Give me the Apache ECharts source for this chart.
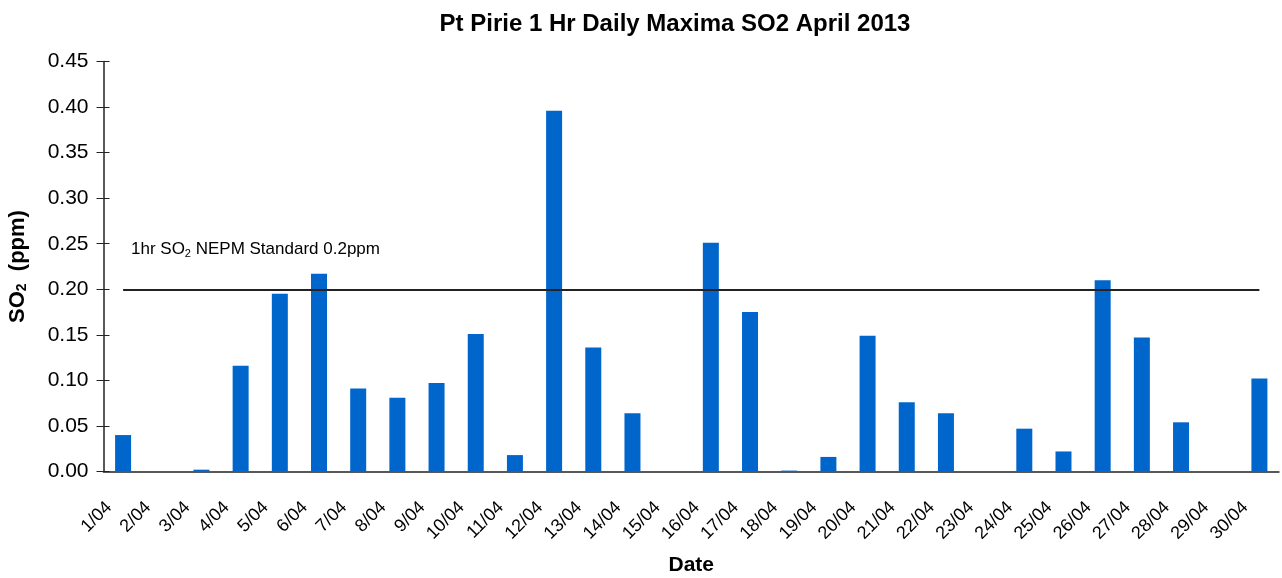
<!DOCTYPE html>
<html>
<head>
<meta charset="utf-8">
<script src="https://cdn.jsdelivr.net/npm/echarts@6/dist/echarts.min.js"></script>
<style>
  html, body { margin: 0; padding: 0; background: #fff; }
  #chart { width: 1282px; height: 578px; }
</style>
</head>
<body>
<div id="chart"></div>
<script>
// daily 1 hr maxima
const dates = ['1/04','2/04','3/04','4/04','5/04','6/04','7/04','8/04','9/04','10/04',
  '11/04','12/04','13/04','14/04','15/04','16/04','17/04','18/04','19/04','20/04',
  '21/04','22/04','23/04','24/04','25/04','26/04','27/04','28/04','29/04','30/04'];
const so2Max = [0.040, 0, 0.002, 0.116, 0.195, 0.217, 0.091, 0.081, 0.097, 0.151,
  0.018, 0.396, 0.136, 0.064, 0, 0.251, 0.175, 0.001, 0.016, 0.149,
  0.076, 0.064, 0, 0.047, 0.022, 0.210, 0.147, 0.054, 0, 0.102];
const nepmStandard = 0.2;

const chart = echarts.init(document.getElementById('chart'));
const font = 'Arial, "Liberation Sans", sans-serif';
const axisCol = '#222';

chart.setOption({
  animation: false,
  textStyle: { fontFamily: font },
  title: {
    text: 'Pt Pirie 1 Hr Daily Maxima SO2 April 2013',
    left: 670, top: 7, textAlign: 'center',
    textStyle: { fontSize: 24, fontWeight: 'bold', color: '#000', fontFamily: font }
  },
  grid: { left: 103.5, right: 3, top: 61.5, bottom: 106.5, containLabel: false, outerBoundsMode: 'none' },
  xAxis: [
    {
      type: 'category',
      data: dates,
      name: 'Date',
      nameLocation: 'middle',
      nameGap: 83,
      nameTextStyle: { fontSize: 21, fontWeight: 'bold', color: '#000' },
      axisLine: { lineStyle: { color: axisCol, width: 1.5 } },
      axisTick: { length: 7, lineStyle: { color: axisCol } },
      axisLabel: { rotate: 45, fontSize: 18, color: '#000', margin: 19, padding: [0, 20, 0, 0], interval: 0 }
    },
    {
      // same axis again, only to draw the tick halves above the line
      type: 'category', data: dates, position: 'bottom',
      axisLine: { show: false },
      axisTick: { inside: true, length: 7, lineStyle: { color: axisCol } },
      axisLabel: { show: false }
    }
  ],
  yAxis: [
    {
      type: 'value',
      min: 0, max: 0.45, interval: 0.05,
      name: '{a|SO}{s|2}{a|  (ppm)}',
      nameLocation: 'middle',
      nameGap: 74,
      nameRotate: 90,
      nameTextStyle: {
        rich: {
          a: { fontSize: 22, fontWeight: 'bold', color: '#000', fontFamily: font },
          s: { fontSize: 14, fontWeight: 'bold', color: '#000', fontFamily: font, padding: [10, 0, 0, 0] }
        }
      },
      axisLine: { show: true, lineStyle: { color: axisCol, width: 1.5 } },
      axisTick: { show: true, length: 7, lineStyle: { color: axisCol } },
      axisLabel: { fontSize: 21, color: '#000', margin: 15, formatter: v => v.toFixed(2) },
      splitLine: { show: false }
    },
    {
      type: 'value', min: 0, max: 0.45, interval: 0.05, position: 'left',
      axisLine: { show: false },
      axisTick: { show: true, inside: true, length: 6, lineStyle: { color: axisCol } },
      axisLabel: { show: false },
      splitLine: { show: false }
    }
  ],
  series: [
    {
      type: 'bar',
      data: so2Max,
      barWidth: 16,
      itemStyle: { color: '#0066CC' },
      markLine: {
        silent: true,
        symbol: 'none',
        label: { show: false },
        lineStyle: { color: '#222', width: 2, type: 'solid' },
        data: [[
          { coord: [dates[0], nepmStandard] },
          { coord: [dates[dates.length - 1], nepmStandard] }
        ]]
      }
    }
  ],
  graphic: [
    {
      type: 'text',
      left: 131, top: 241,
      style: {
        text: '{a|1hr SO}{s|2}{a| NEPM Standard 0.2ppm}',
        rich: {
          a: { fontSize: 17, fill: '#000', fontFamily: font },
          s: { fontSize: 11, fill: '#000', fontFamily: font, padding: [9, 0, 0, 0] }
        }
      }
    }
  ]
});
</script>
</body>
</html>
